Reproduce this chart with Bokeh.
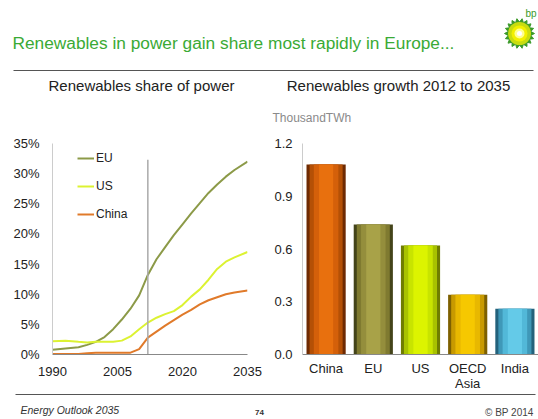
import numpy as np
from bokeh.plotting import figure
from bokeh.layouts import column, row
from bokeh.models import (Range1d, FactorRange, ColumnDataSource, FixedTicker,
                          PrintfTickFormatter, NumeralTickFormatter, Legend, LegendItem)
from bokeh.core.properties import value
from bokeh.embed import file_html
from bokeh.resources import INLINE

FONT = "Liberation Sans"

# ---------------- data ----------------
years = [1990, 1993, 1996, 1998, 2000, 2002, 2004, 2006, 2008, 2010, 2012, 2014,
         2016, 2018, 2020, 2022, 2024, 2026, 2028, 2030, 2032, 2035]
eu_share = [0.8, 1.0, 1.2, 1.6, 2.1, 2.9, 4.2, 5.8, 7.6, 9.8, 13.2, 15.8,
            17.8, 19.8, 21.6, 23.4, 25.1, 26.8, 28.2, 29.5, 30.6, 32.0]
us_share = [2.2, 2.3, 2.1, 2.0, 2.1, 2.1, 2.1, 2.3, 3.0, 4.2, 5.3, 6.1,
            6.7, 7.2, 8.2, 9.6, 10.8, 12.4, 14.2, 15.4, 16.1, 17.0]
china_share = [0.1, 0.1, 0.1, 0.2, 0.3, 0.3, 0.3, 0.3, 0.3, 0.9, 2.8, 3.8,
               4.8, 5.7, 6.6, 7.4, 8.3, 9.0, 9.5, 10.0, 10.3, 10.6]
forecast_start = 2012
divider_top = 32.3

regions = ["China", "EU", "US", "OECD\nAsia", "India"]
growth = [1.08, 0.74, 0.62, 0.34, 0.26]

share_ticks = [0, 5, 10, 15, 20, 25, 30, 35]
year_ticks = [1990, 2005, 2020, 2035]
growth_ticks = [0.0, 0.3, 0.6, 0.9, 1.2]

W = 538

# ---------------- header ----------------
HH = 125
hdr = figure(width=W, height=HH, x_range=Range1d(0, W), y_range=Range1d(HH, 0),
             output_backend="svg", toolbar_location=None, min_border=0)
hdr.axis.visible = False
hdr.grid.visible = False
hdr.outline_line_color = None

hdr.text(x=[12], y=[42], text=["Renewables in power gain share most rapidly in Europe..."],
         text_font=value(FONT), text_font_size="17.3px", text_color="#3aaa35",
         text_baseline="middle", text_align="left")
hdr.segment(x0=[13], y0=[70], x1=[533], y1=[70], line_color="#555555", line_width=1)
hdr.text(x=[141, 398], y=[85, 85],
         text=["Renewables share of power", "Renewables growth 2012 to 2035"],
         text_font=value(FONT), text_font_size="15px", text_color="#222222",
         text_baseline="middle", text_align="center")
hdr.text(x=[272], y=[117], text=["ThousandTWh"], text_font=value(FONT),
         text_font_size="12px", text_color="#8a8a8a", text_baseline="middle",
         text_align="left")

# bp helios logo (decoration)
cx, cy = 519, 33
n = 18
ang = np.linspace(0, 2 * np.pi, 2 * n, endpoint=False)
rad = np.where(np.arange(2 * n) % 2 == 0, 15.0, 11.5)
hdr.patch(x=cx + rad * np.cos(ang), y=cy + rad * np.sin(ang), fill_color="#3c9a2a",
          line_color="#3c9a2a")
hdr.scatter(x=[cx], y=[cy], size=23, fill_color="#c8dc10", line_color=None)
hdr.scatter(x=[cx], y=[cy], size=16, fill_color="#f2f000", line_color=None)
hdr.scatter(x=[cx], y=[cy], size=10, fill_color="#ffff90", line_color=None)
hdr.scatter(x=[cx], y=[cy], size=5, fill_color="#ffffff", line_color=None)
hdr.text(x=[536], y=[13], text=["bp"], text_font=value(FONT), text_font_size="10px",
         text_color="#3c9a2a", text_baseline="middle", text_align="right")

# ---------------- left chart ----------------
CH = 268
TOP, BOT = 18, 38
left = figure(width=270, height=CH, x_range=Range1d(1990, 2035), y_range=Range1d(0, 35),
              output_backend="svg", toolbar_location=None,
              min_border_left=52, min_border_right=23, min_border_top=TOP, min_border_bottom=BOT)
left.outline_line_color = None
left.grid.visible = False

l_eu = left.line(years, eu_share, line_color="#8c9a48", line_width=2)
l_us = left.line(years, us_share, line_color="#dcf232", line_width=2)
l_cn = left.line(years, china_share, line_color="#e07a2a", line_width=2)
left.segment(x0=[forecast_start], y0=[0], x1=[forecast_start], y1=[divider_top],
             line_color="#aaaaaa", line_width=1.5)

left.yaxis.ticker = FixedTicker(ticks=share_ticks)
left.yaxis.formatter = PrintfTickFormatter(format="%d%%")
left.xaxis.ticker = FixedTicker(ticks=year_ticks)
for ax in (left.xaxis[0], left.yaxis[0]):
    ax.major_tick_line_color = None
    ax.minor_tick_line_color = None
    ax.major_tick_out = 0
    ax.major_tick_in = 0
    ax.minor_tick_out = 0
    ax.major_label_text_font = FONT
    ax.major_label_text_font_size = "13px"
    ax.major_label_text_color = "#222222"
left.yaxis.axis_line_color = "#cccccc"
left.xaxis.axis_line_color = "#888888"
left.yaxis.major_label_standoff = 13
left.xaxis.major_label_standoff = 12

leg = Legend(items=[LegendItem(label="EU", renderers=[l_eu]),
                    LegendItem(label="US", renderers=[l_us]),
                    LegendItem(label="China", renderers=[l_cn])],
             location=(25, 133), background_fill_alpha=0, border_line_color=None,
             padding=0, margin=0, spacing=14, glyph_width=17, glyph_height=14,
             label_height=14, label_standoff=2, label_text_font=FONT,
             label_text_font_size="12px", label_text_color="#222222")
left.add_layout(leg)

# ---------------- right chart ----------------
right = figure(width=268, height=CH, x_range=FactorRange(*regions), y_range=Range1d(0, 1.2),
               output_backend="svg", toolbar_location=None,
               min_border_left=32, min_border_right=0, min_border_top=TOP, min_border_bottom=BOT)
right.outline_line_color = None
right.grid.visible = False
right.x_range.range_padding = 0

src = ColumnDataSource(dict(region=regions, growth=growth))
src.data["edge"] = ["#6e2a02", "#44441a", "#6f7d00", "#7d6000", "#24627c"]
src.data["mid"] = ["#b45006", "#7f7a30", "#a8c200", "#c89a00", "#3f98b8"]
src.data["core"] = ["#d4600a", "#948e3c", "#c8e400", "#e8b800", "#52b8d8"]
src.data["hi"] = ["#e8700e", "#a8a248", "#dcf400", "#f6c800", "#64cae8"]
right.vbar(x="region", top="growth", width=0.83, source=src, fill_color="edge", line_color=None)
right.vbar(x="region", top="growth", width=0.70, source=src, fill_color="mid", line_color=None)
right.vbar(x="region", top="growth", width=0.52, source=src, fill_color="core", line_color=None)
right.vbar(x="region", top="growth", width=0.30, source=src, fill_color="hi", line_color=None)

right.yaxis.ticker = FixedTicker(ticks=growth_ticks)
right.yaxis.formatter = NumeralTickFormatter(format="0.0")
for ax in (right.xaxis[0], right.yaxis[0]):
    ax.major_tick_line_color = None
    ax.minor_tick_line_color = None
    ax.major_tick_out = 0
    ax.major_tick_in = 0
    ax.minor_tick_out = 0
    ax.major_label_text_font = FONT
    ax.major_label_text_font_size = "13px"
    ax.major_label_text_color = "#222222"
right.yaxis.axis_line_color = "#cccccc"
right.xaxis.axis_line_color = "#888888"
right.yaxis.major_label_standoff = 10
right.xaxis.major_label_standoff = 6
right.xaxis.major_label_text_line_height = 1.0
right.xaxis.major_label_orientation = "horizontal"

# ---------------- footer ----------------
FT = 393
ftr = figure(width=W, height=419 - FT, x_range=Range1d(0, W), y_range=Range1d(419, FT),
             output_backend="svg", toolbar_location=None, min_border=0)
ftr.axis.visible = False
ftr.grid.visible = False
ftr.outline_line_color = None
ftr.segment(x0=[15], y0=[394], x1=[535], y1=[394], line_color="#555555", line_width=1)
ftr.text(x=[20], y=[409], text=["Energy Outlook 2035"], text_font=value(FONT),
         text_font_size="10.5px", text_font_style="italic", text_color="#333333",
         text_baseline="middle", text_align="left")
ftr.text(x=[259], y=[412], text=["74"], text_font=value(FONT), text_font_size="8px",
         text_font_style="bold", text_color="#333333", text_baseline="middle", text_align="center")
ftr.text(x=[533], y=[412], text=["© BP 2014"], text_font=value(FONT), text_font_size="10px",
         text_color="#444444", text_baseline="middle", text_align="right")

layout = column(hdr, row(left, right), ftr)
open("out.html", "w").write(file_html(layout, INLINE))
